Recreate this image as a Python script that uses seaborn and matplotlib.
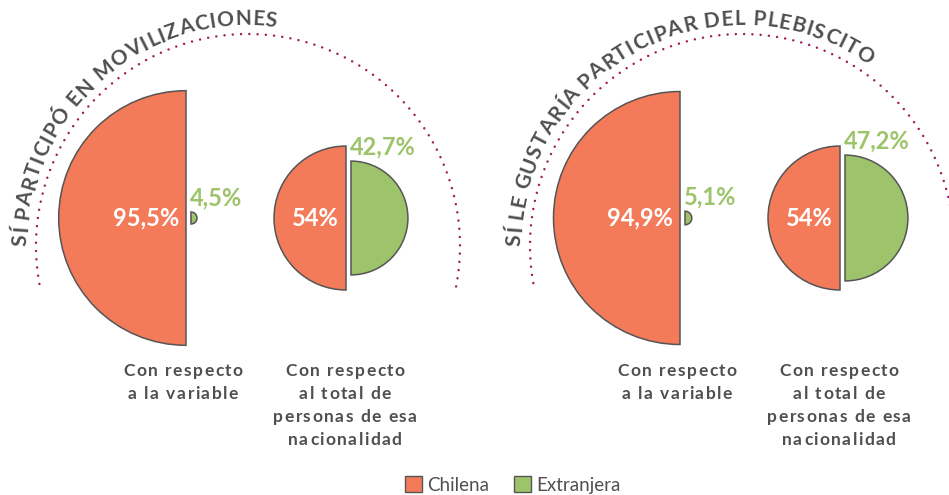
import matplotlib
matplotlib.use('Agg')

import matplotlib.pyplot as plt
from matplotlib.patches import Wedge, Patch
from matplotlib.font_manager import FontProperties, findfont, get_font
import numpy as np
import seaborn as sns

# === Data ===
panel_titles = ["SÍ PARTICIPÓ EN MOVILIZACIONES", "SÍ LE GUSTARÍA PARTICIPAR DEL PLEBISCITO"]
chilena_var = [95.5, 94.9]
extranjera_var = [4.5, 5.1]
chilena_total = [54, 54]
extranjera_total = [42.7, 47.2]
group_labels = ["Con respecto\na la variable",
                "Con respecto\nal total de\npersonas de esa\nnacionalidad"]
legend_labels = ["Chilena", "Extranjera"]

# === Style ===
ORANGE = "#F37B5A"
GREEN = "#9DC46A"
EDGE = "#555555"
TEXT = "#4f4f4f"
DOTS = "#A3195E"
FONT = ["Lato", "DejaVu Sans"]

sns.set_theme(style="white")
plt.rcParams['font.family'] = FONT

W, H = 949, 495
DPI = 100
fig = plt.figure(figsize=(W / DPI, H / DPI), dpi=DPI)
ax = fig.add_axes([0, 0, 1, 1])
ax.set_xlim(0, W)
ax.set_ylim(H, 0)
ax.set_aspect('equal')
ax.axis('off')

SCALE = 1.333   # px of radius per percentage point
CY = 218        # vertical centre of the half circles
GAP = 5


def fmt(v):
    return f"{v:g}".replace('.', ',') + '%'


def glyph_layout(s, prop, tracking):
    # returns (ink centre offset from line start, total advance) in px
    font = get_font(findfont(prop))
    font.set_size(prop.get_size_in_points(), DPI)
    pen, centres = 0.0, []
    for ch in s:
        g = font.load_char(ord(ch))
        adv = g.linearHoriAdvance / 65536
        centres.append(pen + g.horiBearingX / 64 + g.width / 128)
        pen += adv + tracking
    return centres, pen - tracking


def arc_text(text, cx, cy, r, start_deg, size, tracking):
    prop = FontProperties(family=FONT, weight='bold', size=size)
    centres, _ = glyph_layout(text, prop, tracking)
    a0 = np.deg2rad(start_deg)
    for ch, c in zip(text, centres):
        if ch == ' ':
            continue
        ang = a0 - c / r
        ax.text(cx + r * np.cos(ang), cy - r * np.sin(ang), ch,
                fontproperties=prop, color=TEXT, ha='center', va='baseline',
                rotation=np.rad2deg(ang) - 90, rotation_mode='anchor')


def tracked_text(x, y, text, size, tracking, line_h, weight='bold'):
    # centred multi-line text with letter spacing; y is the first baseline
    prop = FontProperties(family=FONT, weight=weight, size=size)
    for k, line in enumerate(text.split('\n')):
        centres, total = glyph_layout(line, prop, tracking)
        for ch, c in zip(line, centres):
            if ch == ' ':
                continue
            ax.text(x - total / 2 + c, y + k * line_h, ch, fontproperties=prop,
                    color=TEXT, ha='center', va='baseline')


def half_pair(x, left_val, right_val):
    r_l = left_val * SCALE
    r_r = right_val * SCALE
    ax.add_patch(Wedge((x, CY), r_l, 90, 270, facecolor=ORANGE,
                       edgecolor=EDGE, linewidth=1.1))
    ax.add_patch(Wedge((x + GAP, CY), r_r, -90, 90, facecolor=GREEN,
                       edgecolor=EDGE, linewidth=1.1))
    ax.text(x - 7, CY, fmt(left_val), color='white', fontsize=17,
            fontweight='bold', ha='right', va='center')
    ax.text(x + GAP - 1, CY - r_r - 14, fmt(right_val), color=GREEN,
            fontsize=17, fontweight='bold', ha='left', va='center')


for i, title in enumerate(panel_titles):
    x0 = i * 494
    # dotted arc
    cx, cy, R = x0 + 248, 246, 212
    t = np.linspace(np.deg2rad(-11), np.deg2rad(191), 400)
    ax.plot(cx + R * np.cos(t), cy - R * np.sin(t), color=DOTS,
            linewidth=1.8, linestyle=(0, (0.01, 3.3)),
            dash_capstyle='round')
    arc_text(title, cx, cy, 221, 180, 15, 0.95)

    half_pair(x0 + 186, chilena_var[i], extranjera_var[i])
    half_pair(x0 + 346, chilena_total[i], extranjera_total[i])

    for gx, lab in zip([x0 + 183, x0 + 345], group_labels):
        tracked_text(gx, 376, lab, 12.5, 1.5, 23)

handles = [Patch(facecolor=ORANGE, edgecolor=EDGE),
           Patch(facecolor=GREEN, edgecolor=EDGE)]
fig.legend(handles, legend_labels, loc='center', bbox_to_anchor=(513 / W, 1 - 485 / H),
           ncol=2, frameon=False, fontsize=13.5, handlelength=0.9, handleheight=0.9,
           handletextpad=0.3, columnspacing=1.3, labelcolor=TEXT)

fig.savefig("out.png", dpi=DPI)
